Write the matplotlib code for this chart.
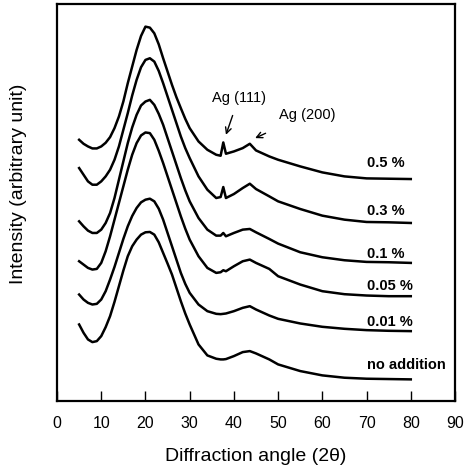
import numpy as np
import matplotlib
matplotlib.use("Agg")
import matplotlib.pyplot as plt

plt.rcParams['font.family'] = ['Liberation Sans', 'DejaVu Sans']

# Diffraction angle samples (2 theta)
angle = [5, 6, 7, 8, 9, 10, 11, 12, 13, 14, 15, 16, 17, 18, 19, 20, 21, 22, 23, 24, 25, 26,
         27, 28, 29, 30, 32, 34, 36, 37, 37.6, 38.2, 40, 42, 43.6, 45, 48, 50, 55, 60, 65,
         70, 75, 80]

# Intensity (arbitrary units, curves already offset)
int_05 = [785, 773, 765, 759, 759, 765, 776, 793, 820, 855, 900, 955, 1005, 1055, 1097, 1125,
          1122, 1105, 1072, 1030, 990, 950, 913, 880, 848, 820, 780, 755, 740, 737, 777, 743,
          750, 760, 773, 753, 735, 725, 705, 687, 675, 669, 668, 667]
int_03 = [700, 680, 660, 650, 650, 660, 675, 695, 725, 765, 815, 865, 918, 965, 1003, 1025,
          1030, 1020, 992, 955, 915, 875, 835, 795, 760, 730, 675, 635, 610, 613, 643, 610,
          622, 640, 653, 637, 615, 600, 577, 557, 545, 538, 537, 535]
int_01 = [540, 525, 512, 505, 505, 515, 535, 565, 610, 665, 720, 775, 822, 860, 888, 900,
          905, 890, 863, 830, 790, 750, 710, 670, 633, 600, 550, 515, 497, 497, 505, 495,
          505, 515, 517, 507, 487, 473, 447, 432, 423, 418, 417, 415]
int_005 = [420, 410, 400, 395, 397, 415, 450, 495, 545, 595, 645, 695, 740, 775, 798, 807,
           805, 785, 752, 715, 675, 635, 595, 555, 518, 485, 435, 400, 385, 387, 393, 390,
           405, 420, 425, 415, 397, 375, 350, 330, 321, 317, 315, 315]
int_001 = [320, 305, 295, 290, 292, 305, 330, 365, 403, 445, 487, 525, 556, 580, 597, 605,
           608, 600, 578, 545, 505, 465, 425, 385, 352, 325, 290, 270, 262, 261, 262, 263,
           270, 280, 285, 275, 257, 247, 233, 223, 217, 213, 211, 210]
int_none = [230, 205, 185, 177, 180, 195, 222, 255, 298, 345, 392, 435, 465, 485, 500, 507,
            508, 500, 477, 445, 413, 380, 340, 300, 263, 230, 170, 137, 127, 125, 125, 126,
            135, 147, 150, 143, 125, 110, 90, 77, 70, 67, 66, 65]

series = [int_05, int_03, int_01, int_005, int_001, int_none]
labels = ['0.5 %', '0.3 %', '0.1 %', '0.05 %', '0.01 %', 'no addition']
label_y = [718, 575, 445, 350, 240, 112]

fig = plt.figure(figsize=(4.7, 4.77), dpi=100)
ax = fig.add_axes([0.1213, 0.1572, 0.8468, 0.8323])

for vals, lab, ly in zip(series, labels, label_y):
    ax.plot(angle, vals, color='black', lw=1.8, solid_joinstyle='round')
    ax.text(70.2, ly, lab, fontsize=10.5, fontweight='bold', va='center', ha='left')

ax.annotate('Ag (111)', xy=(38.2, 800), xytext=(41.2, 915), ha='center', va='center',
            fontsize=10.5, arrowprops=dict(arrowstyle='->', color='black', lw=1.0,
                                            shrinkA=7, shrinkB=0))
ax.annotate('Ag (200)', xy=(44.8, 790), xytext=(56.5, 862), ha='center', va='center',
            fontsize=10.5, arrowprops=dict(arrowstyle='->', color='black', lw=1.0,
                                            shrinkA=16, shrinkB=0))

ax.set_xlim(0, 90)
ax.set_ylim(0, 1193)
ax.set_xticks(range(0, 91, 10))
ax.set_yticks([])
ax.tick_params(axis='x', direction='in', length=7, width=1, labelsize=11.5, pad=10)
for s in ax.spines.values():
    s.set_linewidth(1.6)

ax.set_xlabel('Diffraction angle (2\u03b8)', fontsize=14)
ax.set_ylabel('Intensity (arbitrary unit)', fontsize=14)
ax.xaxis.set_label_coords(0.5, -0.115)
ax.yaxis.set_label_coords(-0.075, 0.55)

fig.savefig('out.png', dpi=100)
